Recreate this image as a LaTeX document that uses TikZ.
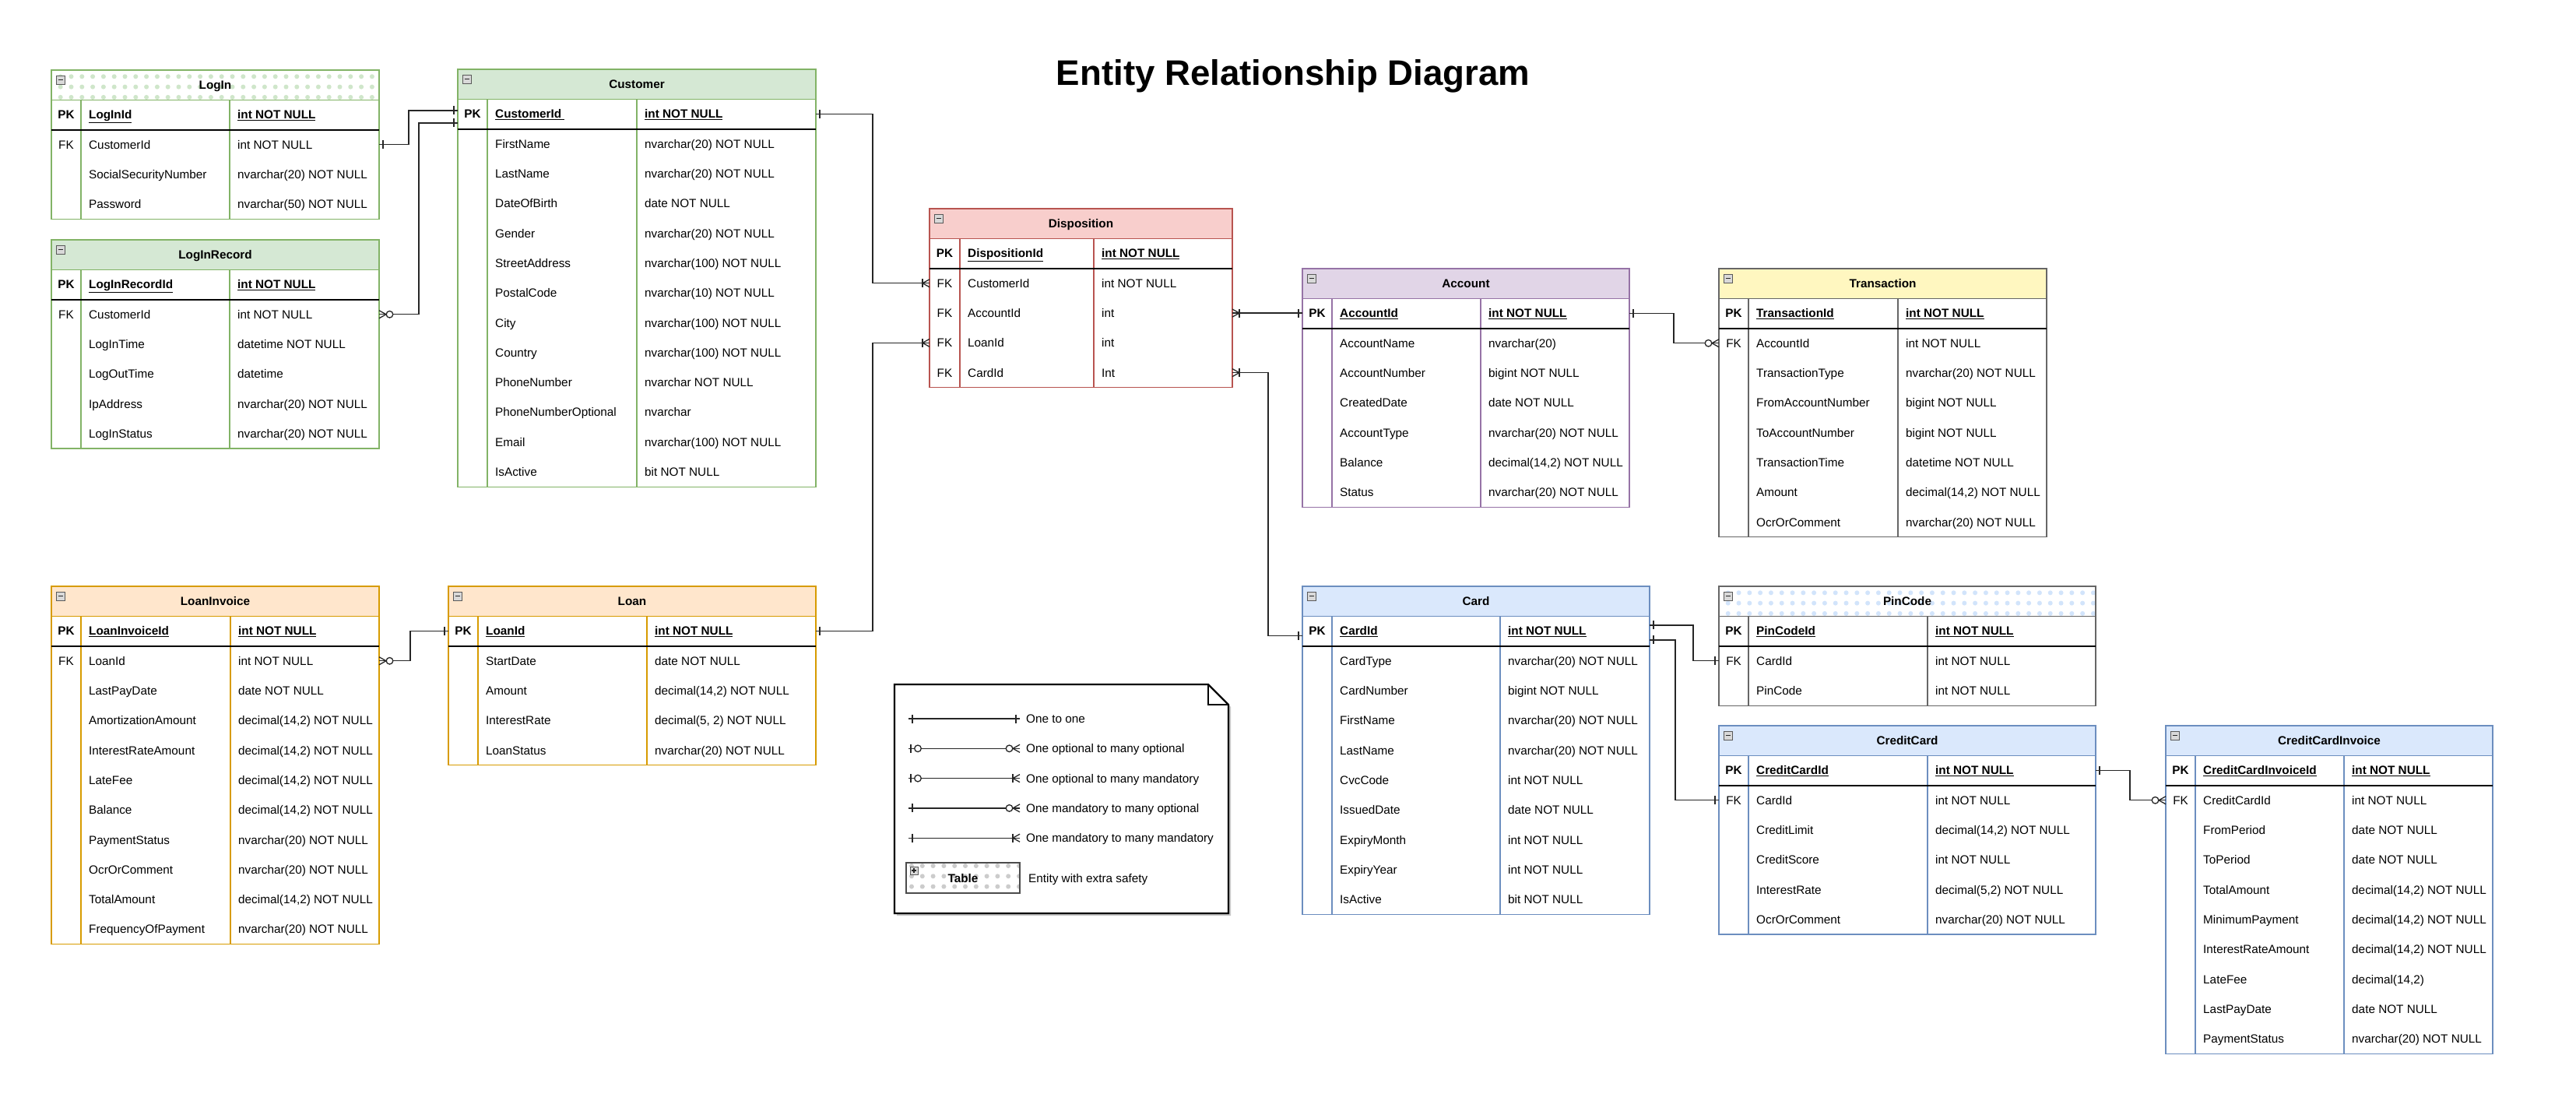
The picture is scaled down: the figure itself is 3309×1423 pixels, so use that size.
\documentclass[tikz,border=0pt]{standalone}
\usepackage{fontspec}
\setmainfont{Liberation Sans}
\usetikzlibrary{calc}
\definecolor{gF}{HTML}{D5E8D4}\definecolor{gB}{HTML}{82B366}
\definecolor{rF}{HTML}{F8CECC}\definecolor{rB}{HTML}{B85450}
\definecolor{pF}{HTML}{E1D5E7}\definecolor{pB}{HTML}{9673A6}
\definecolor{yF}{HTML}{FFF7C0}\definecolor{kB}{HTML}{666666}
\definecolor{oF}{HTML}{FFE6CC}\definecolor{oB}{HTML}{D79B00}
\definecolor{bF}{HTML}{DAE8FC}\definecolor{bB}{HTML}{6C8EBF}
\definecolor{gDot}{HTML}{CFE6CA}\definecolor{bDot}{HTML}{D2E4FB}
\definecolor{kDot}{HTML}{CCCCCC}

\newcommand\erfs{\fontsize{15.3bp}{18bp}\selectfont}
\newcommand\erfsb{\fontsize{15.3bp}{18bp}\selectfont\bfseries}

\tikzset{x=1bp,y=-1bp,
 tblbox/.style={anchor=north west, inner sep=0pt, outer sep=0pt, line width=1.3bp},
 rowbox/.style={anchor=north west, inner sep=0pt, outer sep=0pt, minimum height=38.3bp},
 keytxt/.style={font=\erfs, inner sep=0pt, text height=11bp, text depth=0pt, anchor=center},
 nametxt/.style={font=\erfs, inner sep=0pt, text height=11bp, text depth=0pt, anchor=west},
 titletxt/.style={font=\erfsb, inner sep=0pt, text height=11bp, text depth=0pt, anchor=center},
 conn/.style={draw=black!85, line width=1.3bp},
}

% table frame: id, x0, y0, w1, w2, w3, nfields, header fill, border
\newcommand\mktable[9]{%
  \pgfmathsetmacro\tw{#4+#5+#6}%
  \pgfmathsetmacro\th{(#7+2)*38.3}%
  \pgfmathsetmacro\xa{#2+#4}%
  \pgfmathsetmacro\xb{#2+#4+#5}%
  \pgfmathsetmacro\yb{#3+\th}%
  \pgfmathsetmacro\yp{#3+38.3}%
  \node[tblbox, draw=#9, fill=white, minimum width=\tw bp, minimum height=\th bp] (#1) at (#2,#3) {};
  \node[tblbox, draw=#9, fill=#8, minimum width=\tw bp, minimum height=38.3bp] (#1-h) at (#2,#3) {};
  \node[rowbox, minimum width=\tw bp] (#1-pk) at (#2,\yp) {};
  \foreach \i in {1,...,#7}{%
    \pgfmathsetmacro\yr{#3+(\i+1)*38.3}%
    \node[rowbox, minimum width=\tw bp] (#1-r\i) at (#2,\yr) {};}%
  \coordinate (#1-k) at ({#2+#4/2},#3);
  \coordinate (#1-n) at ({\xa+10},#3);
  \coordinate (#1-t) at ({\xb+10},#3);
  \draw[draw=#9, line width=1.3bp] (\xa,\yp) -- (\xa,\yb) (\xb,\yp) -- (\xb,\yb);
  \draw[black, line width=2bp] (#1-pk.south west) -- (#1-pk.south east);
}
\newcommand\dotheader[3]{%
  \begin{scope}
   \clip (#1-h.north west) rectangle (#1-h.south east);
   \begin{scope}[shift={(#1-h.north west)}]
    \foreach \dx in {0,...,36} \foreach \dy in {0,1,2}
      \fill[#2] ({11.7+\dx*13.8},{8.3+\dy*13.3}) circle (3);
   \end{scope}
  \end{scope}
  \draw[draw=#3, line width=1.3bp] (#1-h.north west) rectangle (#1-h.south east);
}
\newcommand\tbltitle[2]{%
  \begin{scope}[shift={(#1-h.north west)}]
    \draw[draw=gray!70!black, fill=gray!30, line width=0.8bp] (6,7) rectangle ++(11,11);
    \draw[gray!30!black, line width=1.6bp] (8.5,12.5) -- ++(6,0);
  \end{scope}
  \node[titletxt] (#1-title) at (#1-h) {#2};
}
\newcommand\pkrow[3]{%
  \node[keytxt, font=\erfsb] (#1-pk-k) at (#1-k |- #1-pk) {PK};
  \node[nametxt, font=\erfsb] (#1-pk-n) at (#1-n |- #1-pk) {\underline{#2}};
  \node[nametxt, font=\erfsb] (#1-pk-t) at (#1-t |- #1-pk) {\underline{#3}};
}
\newcommand\fld[4]{%
  \node[nametxt] (#1-r#2-n) at (#1-n |- #1-r#2) {#3};
  \node[nametxt] (#1-r#2-t) at (#1-t |- #1-r#2) {#4};
}
\newcommand\fkrow[4]{%
  \node[keytxt] (#1-r#2-k) at (#1-k |- #1-r#2) {FK};
  \fld{#1}{#2}{#3}{#4}%
}
% end markers: point, direction (1 = line leaves to the right)
\newcommand\mone[2]{\begin{scope}[shift={#1},xscale=#2]\draw[conn] (5,-5.5) -- (5,5.5);\end{scope}}
\newcommand\mmany[2]{\begin{scope}[shift={#1},xscale=#2]\draw[conn] (0,-5) -- (9,0) -- (0,5); \draw[conn] (9,-5.5) -- (9,5.5);\end{scope}}
\newcommand\mzmany[2]{\begin{scope}[shift={#1},xscale=#2]\draw[conn] (0,-5) -- (9,0) -- (0,5); \draw[conn,fill=white] (13.5,0) circle (4.3);\end{scope}}
\newcommand\mzone[2]{\begin{scope}[shift={#1},xscale=#2]\draw[conn] (3,-5.5) -- (3,5.5); \draw[conn,fill=white] (12,0) circle (4.3);\end{scope}}

\begin{document}
\begin{tikzpicture}
\fill[white] (0,0) rectangle (3309,1423);
\useasboundingbox (0,0) rectangle (3309,1423);

\node[font=\fontsize{45.6bp}{50bp}\selectfont\bfseries, anchor=base, inner sep=0pt] (title) at (1661,110) {Entity Relationship Diagram};

% ---------------- LogIn
\mktable{login}{66}{90}{38}{191}{192}{3}{white}{gB}
\dotheader{login}{gDot}{gB}
\tbltitle{login}{LogIn}
\pkrow{login}{LogInId}{int NOT NULL}
\fkrow{login}{1}{CustomerId}{int NOT NULL}
\fld{login}{2}{SocialSecurityNumber}{nvarchar(20) NOT NULL}
\fld{login}{3}{Password}{nvarchar(50) NOT NULL}

% ---------------- LogInRecord
\mktable{lrec}{66}{308}{38}{191}{192}{5}{gF}{gB}
\tbltitle{lrec}{LogInRecord}
\pkrow{lrec}{LogInRecordId}{int NOT NULL}
\fkrow{lrec}{1}{CustomerId}{int NOT NULL}
\fld{lrec}{2}{LogInTime}{datetime NOT NULL}
\fld{lrec}{3}{LogOutTime}{datetime}
\fld{lrec}{4}{IpAddress}{nvarchar(20) NOT NULL}
\fld{lrec}{5}{LogInStatus}{nvarchar(20) NOT NULL}

% ---------------- Customer
\mktable{cust}{588}{89}{38}{192}{230}{12}{gF}{gB}
\tbltitle{cust}{Customer}
\pkrow{cust}{CustomerId\ }{int NOT NULL}
\fld{cust}{1}{FirstName}{nvarchar(20) NOT NULL}
\fld{cust}{2}{LastName}{nvarchar(20) NOT NULL}
\fld{cust}{3}{DateOfBirth}{date NOT NULL}
\fld{cust}{4}{Gender}{nvarchar(20) NOT NULL}
\fld{cust}{5}{StreetAddress}{nvarchar(100) NOT NULL}
\fld{cust}{6}{PostalCode}{nvarchar(10) NOT NULL}
\fld{cust}{7}{City}{nvarchar(100) NOT NULL}
\fld{cust}{8}{Country}{nvarchar(100) NOT NULL}
\fld{cust}{9}{PhoneNumber}{nvarchar NOT NULL}
\fld{cust}{10}{PhoneNumberOptional}{nvarchar}
\fld{cust}{11}{Email}{nvarchar(100) NOT NULL}
\fld{cust}{12}{IsActive}{bit NOT NULL}

% ---------------- Disposition
\mktable{disp}{1194}{268}{39}{172}{178}{4}{rF}{rB}
\tbltitle{disp}{Disposition}
\pkrow{disp}{DispositionId}{int NOT NULL}
\fkrow{disp}{1}{CustomerId}{int NOT NULL}
\fkrow{disp}{2}{AccountId}{int}
\fkrow{disp}{3}{LoanId}{int}
\fkrow{disp}{4}{CardId}{Int}

% ---------------- Account
\mktable{acc}{1673}{345}{38}{191}{191}{6}{pF}{pB}
\tbltitle{acc}{Account}
\pkrow{acc}{AccountId}{int NOT NULL}
\fld{acc}{1}{AccountName}{nvarchar(20)}
\fld{acc}{2}{AccountNumber}{bigint NOT NULL}
\fld{acc}{3}{CreatedDate}{date NOT NULL}
\fld{acc}{4}{AccountType}{nvarchar(20) NOT NULL}
\fld{acc}{5}{Balance}{decimal(14,2) NOT NULL}
\fld{acc}{6}{Status}{nvarchar(20) NOT NULL}

% ---------------- Transaction
\mktable{tr}{2208}{345}{38}{192}{191}{7}{yF}{kB}
\tbltitle{tr}{Transaction}
\pkrow{tr}{TransactionId}{int NOT NULL}
\fkrow{tr}{1}{AccountId}{int NOT NULL}
\fld{tr}{2}{TransactionType}{nvarchar(20) NOT NULL}
\fld{tr}{3}{FromAccountNumber}{bigint NOT NULL}
\fld{tr}{4}{ToAccountNumber}{bigint NOT NULL}
\fld{tr}{5}{TransactionTime}{datetime NOT NULL}
\fld{tr}{6}{Amount}{decimal(14,2) NOT NULL}
\fld{tr}{7}{OcrOrComment}{nvarchar(20) NOT NULL}

% ---------------- LoanInvoice
\mktable{li}{66}{753}{38}{192}{191}{10}{oF}{oB}
\tbltitle{li}{LoanInvoice}
\pkrow{li}{LoanInvoiceId}{int NOT NULL}
\fkrow{li}{1}{LoanId}{int NOT NULL}
\fld{li}{2}{LastPayDate}{date NOT NULL}
\fld{li}{3}{AmortizationAmount}{decimal(14,2) NOT NULL}
\fld{li}{4}{InterestRateAmount}{decimal(14,2) NOT NULL}
\fld{li}{5}{LateFee}{decimal(14,2) NOT NULL}
\fld{li}{6}{Balance}{decimal(14,2) NOT NULL}
\fld{li}{7}{PaymentStatus}{nvarchar(20) NOT NULL}
\fld{li}{8}{OcrOrComment}{nvarchar(20) NOT NULL}
\fld{li}{9}{TotalAmount}{decimal(14,2) NOT NULL}
\fld{li}{10}{FrequencyOfPayment}{nvarchar(20) NOT NULL}

% ---------------- Loan
\mktable{loan}{576}{753}{38}{217}{217}{4}{oF}{oB}
\tbltitle{loan}{Loan}
\pkrow{loan}{LoanId}{int NOT NULL}
\fld{loan}{1}{StartDate}{date NOT NULL}
\fld{loan}{2}{Amount}{decimal(14,2) NOT NULL}
\fld{loan}{3}{InterestRate}{decimal(5, 2) NOT NULL}
\fld{loan}{4}{LoanStatus}{nvarchar(20) NOT NULL}

% ---------------- Card
\mktable{card}{1673}{753}{38}{216}{192}{9}{bF}{bB}
\tbltitle{card}{Card}
\pkrow{card}{CardId}{int NOT NULL}
\fld{card}{1}{CardType}{nvarchar(20) NOT NULL}
\fld{card}{2}{CardNumber}{bigint NOT NULL}
\fld{card}{3}{FirstName}{nvarchar(20) NOT NULL}
\fld{card}{4}{LastName}{nvarchar(20) NOT NULL}
\fld{card}{5}{CvcCode}{int NOT NULL}
\fld{card}{6}{IssuedDate}{date NOT NULL}
\fld{card}{7}{ExpiryMonth}{int NOT NULL}
\fld{card}{8}{ExpiryYear}{int NOT NULL}
\fld{card}{9}{IsActive}{bit NOT NULL}

% ---------------- PinCode
\mktable{pin}{2208}{753}{38}{230}{216}{2}{white}{kB}
\dotheader{pin}{bDot}{kB}
\tbltitle{pin}{PinCode}
\pkrow{pin}{PinCodeId}{int NOT NULL}
\fkrow{pin}{1}{CardId}{int NOT NULL}
\fld{pin}{2}{PinCode}{int NOT NULL}

% ---------------- CreditCard
\mktable{cc}{2208}{932}{38}{230}{216}{5}{bF}{bB}
\tbltitle{cc}{CreditCard}
\pkrow{cc}{CreditCardId}{int NOT NULL}
\fkrow{cc}{1}{CardId}{int NOT NULL}
\fld{cc}{2}{CreditLimit}{decimal(14,2) NOT NULL}
\fld{cc}{3}{CreditScore}{int NOT NULL}
\fld{cc}{4}{InterestRate}{decimal(5,2) NOT NULL}
\fld{cc}{5}{OcrOrComment}{nvarchar(20) NOT NULL}

% ---------------- CreditCardInvoice
\mktable{cci}{2782}{932}{38}{191}{191}{9}{bF}{bB}
\tbltitle{cci}{CreditCardInvoice}
\pkrow{cci}{CreditCardInvoiceId}{int NOT NULL}
\fkrow{cci}{1}{CreditCardId}{int NOT NULL}
\fld{cci}{2}{FromPeriod}{date NOT NULL}
\fld{cci}{3}{ToPeriod}{date NOT NULL}
\fld{cci}{4}{TotalAmount}{decimal(14,2) NOT NULL}
\fld{cci}{5}{MinimumPayment}{decimal(14,2) NOT NULL}
\fld{cci}{6}{InterestRateAmount}{decimal(14,2) NOT NULL}
\fld{cci}{7}{LateFee}{decimal(14,2)}
\fld{cci}{8}{LastPayDate}{date NOT NULL}
\fld{cci}{9}{PaymentStatus}{nvarchar(20) NOT NULL}

% ---------------- connectors
\coordinate (e1) at ($(cust-pk.west)+(0,-4.5)$);
\coordinate (e2) at ($(cust-pk.west)+(0,11.5)$);
\coordinate (e6) at ($(card-pk.west)+(0,6)$);
\coordinate (s8) at ($(card-pk.east)+(0,-7.5)$);
\coordinate (s9) at ($(card-pk.east)+(0,11.5)$);

\draw[conn] (login-r1.east) -- ++(38,0) |- (e1);
\mone{(login-r1.east)}{1}\mone{(e1)}{-1}

\draw[conn] (lrec-r1.east) -- ++(51,0) |- (e2);
\mzmany{(lrec-r1.east)}{1}\mone{(e2)}{-1}

\draw[conn] (cust-pk.east) -- ++(73,0) |- (disp-r1.west);
\mone{(cust-pk.east)}{1}\mmany{(disp-r1.west)}{-1}

\draw[conn] (loan-pk.east) -- ++(73,0) |- (disp-r3.west);
\mone{(loan-pk.east)}{1}\mmany{(disp-r3.west)}{-1}

\draw[conn] (disp-r2.east) -- (disp-r2.east -| acc-pk.west);
\mmany{(disp-r2.east)}{1}\mone{(disp-r2.east -| acc-pk.west)}{-1}

\draw[conn] (disp-r4.east) -- ++(46,0) |- (e6);
\mmany{(disp-r4.east)}{1}\mone{(e6)}{-1}

\draw[conn] (acc-pk.east) -- ++(57,0) |- (tr-r1.west);
\mone{(acc-pk.east)}{1}\mzmany{(tr-r1.west)}{-1}

\draw[conn] (s8) -- ++(56,0) |- (pin-r1.west);
\mone{(s8)}{1}\mone{(pin-r1.west)}{-1}

\draw[conn] (s9) -- ++(33,0) |- (cc-r1.west);
\mone{(s9)}{1}\mone{(cc-r1.west)}{-1}

\draw[conn] (cc-pk.east) -- ++(44,0) |- (cci-r1.west);
\mone{(cc-pk.east)}{1}\mzmany{(cci-r1.west)}{-1}

\draw[conn] (li-r1.east) -- ++(40,0) |- (loan-pk.west);
\mzmany{(li-r1.east)}{1}\mone{(loan-pk.west)}{-1}

% ---------------- legend
\fill[black!22] (1152,882) -- (1555,882) -- (1581,908) -- (1581,1176) -- (1152,1176) -- cycle;
\draw[line width=2.2bp, fill=white] (1149,879) -- (1552,879) -- (1578,905) -- (1578,1173) -- (1149,1173) -- cycle;
\draw[line width=2.2bp] (1552,879) -- (1552,905) -- (1578,905);

\foreach \k/\yy in {1/923,2/961.3,3/999.6,4/1037.9,5/1076.2}{
  \coordinate (lg\k a) at (1167,\yy);
  \coordinate (lg\k b) at (1310,\yy);
  \draw[conn] (lg\k a) -- (lg\k b);
}
\mone{(lg1a)}{1}\mone{(lg1b)}{-1}
\mzone{(lg2a)}{1}\mzmany{(lg2b)}{-1}
\mzone{(lg3a)}{1}\mmany{(lg3b)}{-1}
\mone{(lg4a)}{1}\mzmany{(lg4b)}{-1}
\mone{(lg5a)}{1}\mmany{(lg5b)}{-1}
\node[nametxt] (lg1t) at (1318,923) {One to one};
\node[nametxt] (lg2t) at (1318,961.3) {One optional to many optional};
\node[nametxt] (lg3t) at (1318,999.6) {One optional to many mandatory};
\node[nametxt] (lg4t) at (1318,1037.9) {One mandatory to many optional};
\node[nametxt] (lg5t) at (1318,1076.2) {One mandatory to many mandatory};

\node[tblbox, draw=gray!60!black, fill=white, minimum width=146bp, minimum height=39bp] (lgtab-h) at (1164,1108) {};
\begin{scope}
  \clip (lgtab-h.north west) rectangle (lgtab-h.south east);
  \begin{scope}[shift={(lgtab-h.north west)}]
    \foreach \dx in {0,...,11} \foreach \dy in {0,1,2}
      \fill[kDot] ({7+\dx*13.8},{4+\dy*13.3}) circle (3);
  \end{scope}
\end{scope}
\draw[draw=gray!60!black, line width=1.3bp] (lgtab-h.north west) rectangle (lgtab-h.south east);
\begin{scope}[shift={(lgtab-h.north west)}]
  \draw[draw=gray!70!black, fill=gray!30, line width=0.8bp] (5,5) rectangle ++(10,10);
  \draw[gray!30!black, line width=1.3bp] (7,10) -- ++(6,0) (10,7) -- ++(0,6);
\end{scope}
\node[titletxt] (lgtab-t) at (lgtab-h) {Table};
\node[nametxt] (lg6t) at (1321,1127.5) {Entity with extra safety};
\end{tikzpicture}
\end{document}
